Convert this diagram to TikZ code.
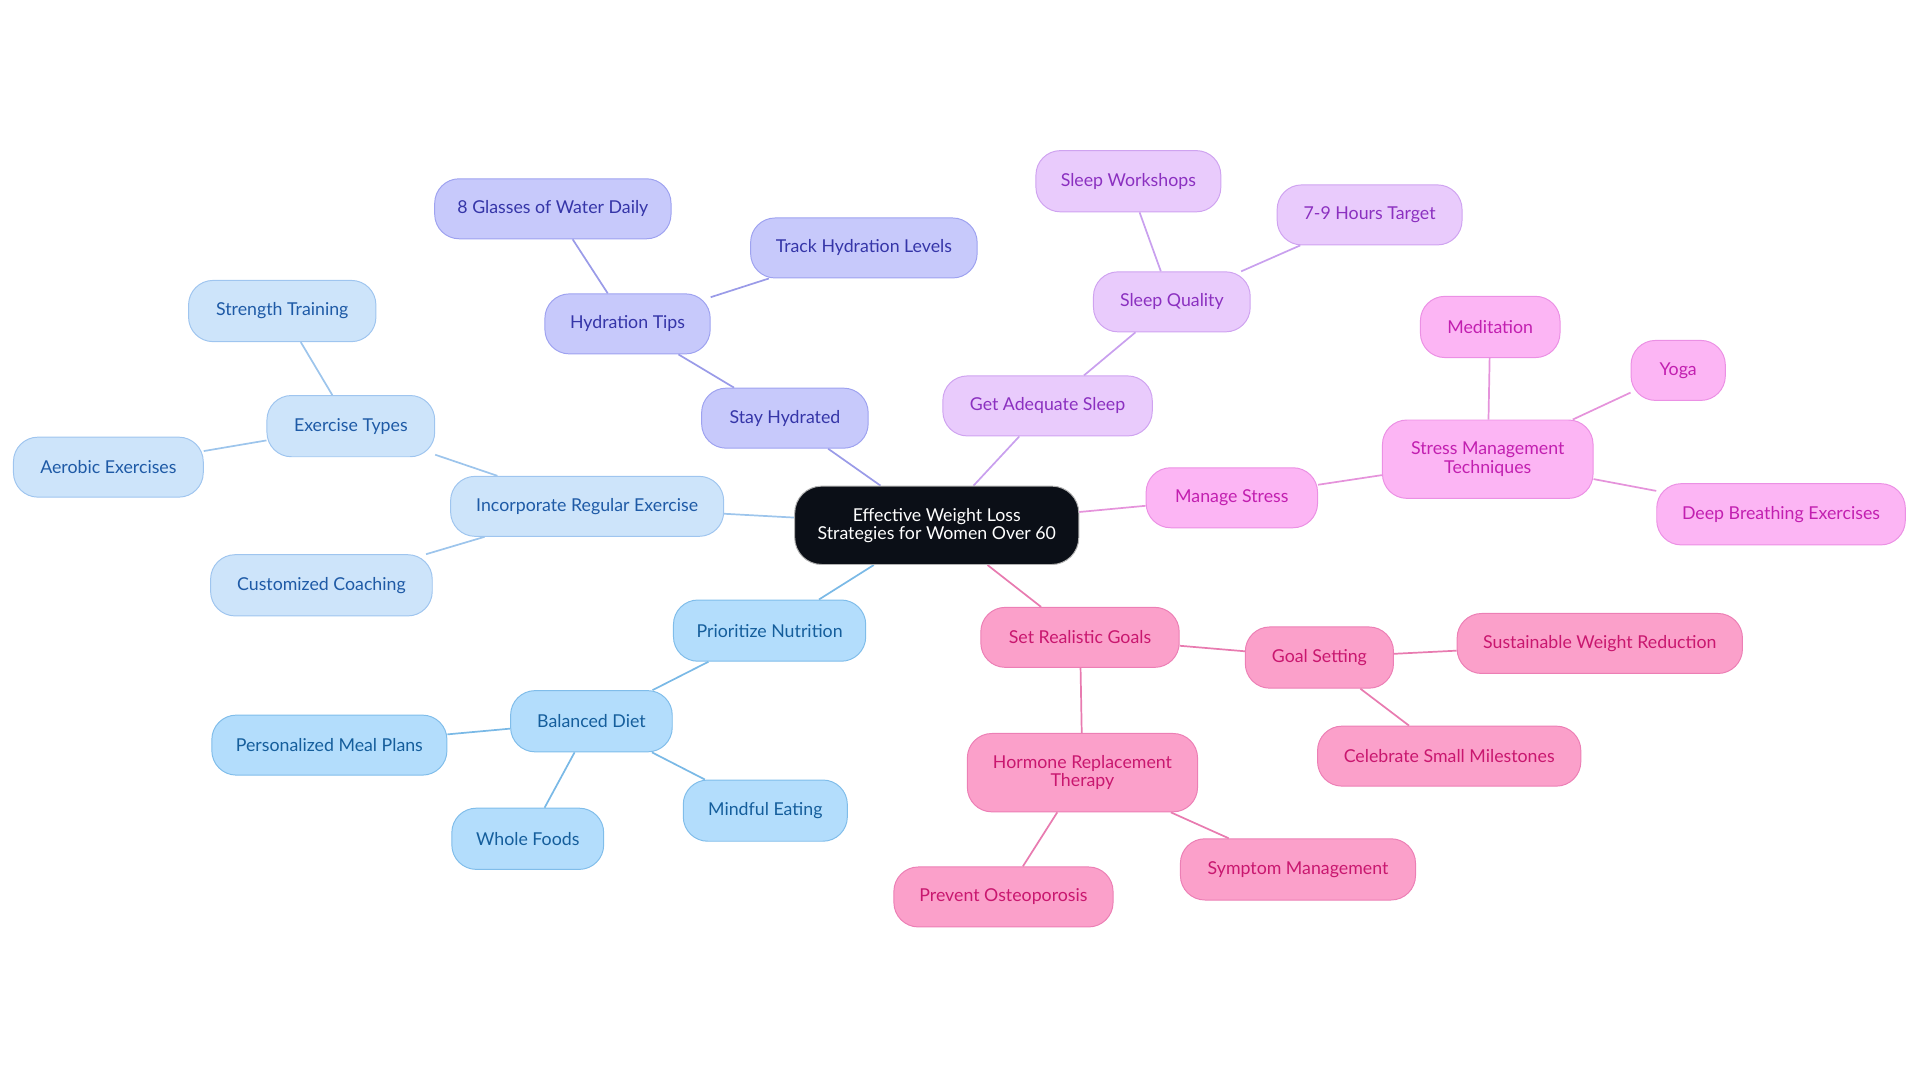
\documentclass[tikz,border=0pt]{standalone}
\usepackage{fontspec}
\setmainfont{Lato}
\usetikzlibrary{backgrounds}
\definecolor{cdark}{HTML}{0B0F17}
\definecolor{hydF}{HTML}{C7C9FB}\definecolor{hydB}{HTML}{9EA2F0}\definecolor{hydT}{HTML}{3535A8}\definecolor{hydE}{HTML}{9A9BE8}
\definecolor{exF}{HTML}{CDE4FA}\definecolor{exB}{HTML}{9FC5EF}\definecolor{exT}{HTML}{1E5AA6}\definecolor{exE}{HTML}{9DC5EC}
\definecolor{nuF}{HTML}{B3DDFC}\definecolor{nuB}{HTML}{80BDEA}\definecolor{nuT}{HTML}{155E9C}\definecolor{nuE}{HTML}{7AB9E6}
\definecolor{slF}{HTML}{E9CBFC}\definecolor{slB}{HTML}{CFA3F0}\definecolor{slT}{HTML}{8B30C0}\definecolor{slE}{HTML}{C9A0EE}
\definecolor{stF}{HTML}{FCB5F4}\definecolor{stB}{HTML}{EB90E4}\definecolor{stT}{HTML}{C21FB0}\definecolor{stE}{HTML}{E593DB}
\definecolor{goF}{HTML}{FBA0CA}\definecolor{goB}{HTML}{EC7FB5}\definecolor{goT}{HTML}{C9176F}\definecolor{goE}{HTML}{E87BB0}
\tikzset{
  base/.style={rounded corners=20pt, draw, line width=0.8pt, inner sep=0pt, minimum height=49pt,
    font=\fontsize{14.5}{15}\selectfont, align=center},
  centerbox/.style={base, fill=cdark, draw=gray!60, text=white, rounded corners=22pt, minimum height=64pt, minimum width=232pt},
  hydbox/.style={base, fill=hydF, draw=hydB, text=hydT},
  exbox/.style={base, fill=exF, draw=exB, text=exT},
  nutbox/.style={base, fill=nuF, draw=nuB, text=nuT},
  slpbox/.style={base, fill=slF, draw=slB, text=slT},
  strbox/.style={base, fill=stF, draw=stB, text=stT},
  goalbox/.style={base, fill=goF, draw=goB, text=goT},
  link/.style={line width=1.4pt}
}
\begin{document}
\begin{tikzpicture}[x=1pt,y=-1pt]
\useasboundingbox (0,0) rectangle (1568,884);
\node[centerbox] (c) at (765,429) {Effective Weight Loss\\Strategies for Women Over 60};
% hydration
\node[hydbox, minimum width=136pt] (sh) at (641,341.5) {Stay Hydrated};
\node[hydbox, minimum width=135pt] (ht) at (512.5,264.5) {Hydration Tips};
\node[hydbox, minimum width=193pt] (g8) at (451.5,170.5) {8 Glasses of Water Daily};
\node[hydbox, minimum width=185pt] (thl) at (705.5,202.5) {Track Hydration Levels};
% exercise
\node[exbox, minimum width=223pt] (ire) at (479.5,413.5) {Incorporate Regular Exercise};
\node[exbox, minimum width=137pt, minimum height=50pt] (et) at (286.5,348) {Exercise Types};
\node[exbox, minimum width=153pt, minimum height=50pt] (st) at (230.5,254) {Strength Training};
\node[exbox, minimum width=155pt] (ae) at (88.5,381.5) {Aerobic Exercises};
\node[exbox, minimum width=181pt, minimum height=50pt] (cc) at (262.5,478) {Customized Coaching};
% nutrition
\node[nutbox, minimum width=157pt, minimum height=50pt] (pn) at (628.5,515) {Prioritize Nutrition};
\node[nutbox, minimum width=132pt, minimum height=50pt] (bd) at (483,589) {Balanced Diet};
\node[nutbox, minimum width=192pt] (pmp) at (269,608.5) {Personalized Meal Plans};
\node[nutbox, minimum width=124pt, minimum height=50pt] (wf) at (431,685) {Whole Foods};
\node[nutbox, minimum width=134pt, minimum height=50pt] (me) at (625,662) {Mindful Eating};
% sleep
\node[slpbox, minimum width=171pt] (gas) at (855.5,331.5) {Get Adequate Sleep};
\node[slpbox, minimum width=128pt] (sq) at (957,246.5) {Sleep Quality};
\node[slpbox, minimum width=151pt, minimum height=50pt] (sw) at (921.5,148) {Sleep Workshops};
\node[slpbox, minimum width=151pt] (h79) at (1118.5,175.5) {7-9 Hours Target};
% stress
\node[strbox, minimum width=140pt] (ms) at (1006,406.5) {Manage Stress};
\node[strbox, minimum width=172pt, minimum height=64pt] (smt) at (1215,375) {Stress Management\\Techniques};
\node[strbox, minimum width=114pt, minimum height=50pt] (med) at (1217,267) {Meditation};
\node[strbox, minimum width=77pt] (yoga) at (1370.5,302.5) {Yoga};
\node[strbox, minimum width=203pt, minimum height=50pt] (dbe) at (1454.5,420) {Deep Breathing Exercises};
% goals
\node[goalbox, minimum width=162pt] (srg) at (882,520.5) {Set Realistic Goals};
\node[goalbox, minimum width=121pt, minimum height=50pt] (gs) at (1077.5,537) {Goal Setting};
\node[goalbox, minimum width=233pt] (swr) at (1306.5,525.5) {Sustainable Weight Reduction};
\node[goalbox, minimum width=215pt] (csm) at (1183.5,617.5) {Celebrate Small Milestones};
\node[goalbox, minimum width=188pt, minimum height=64pt] (hrt) at (884,631) {Hormone Replacement\\Therapy};
\node[goalbox, minimum width=179pt] (po) at (819.5,732.5) {Prevent Osteoporosis};
\node[goalbox, minimum width=192pt, minimum height=50pt] (sm) at (1060,710) {Symptom Management};
\begin{scope}[on background layer]
\draw[link, hydE] (c) -- (sh) (sh) -- (ht) (ht) -- (g8) (ht) -- (thl);
\draw[link, exE] (c) -- (ire) (ire) -- (et) (et) -- (st) (et) -- (ae) (ire) -- (cc);
\draw[link, nuE] (c) -- (pn) (pn) -- (bd) (bd) -- (pmp) (bd) -- (wf) (bd) -- (me);
\draw[link, slE] (c) -- (gas) (gas) -- (sq) (sq) -- (sw) (sq) -- (h79);
\draw[link, stE] (c) -- (ms) (ms) -- (smt) (smt) -- (med) (smt) -- (yoga) (smt) -- (dbe);
\draw[link, goE] (c) -- (srg) (srg) -- (gs) (gs) -- (swr) (gs) -- (csm) (srg) -- (hrt) (hrt) -- (po) (hrt) -- (sm);
\end{scope}
\end{tikzpicture}
\end{document}
